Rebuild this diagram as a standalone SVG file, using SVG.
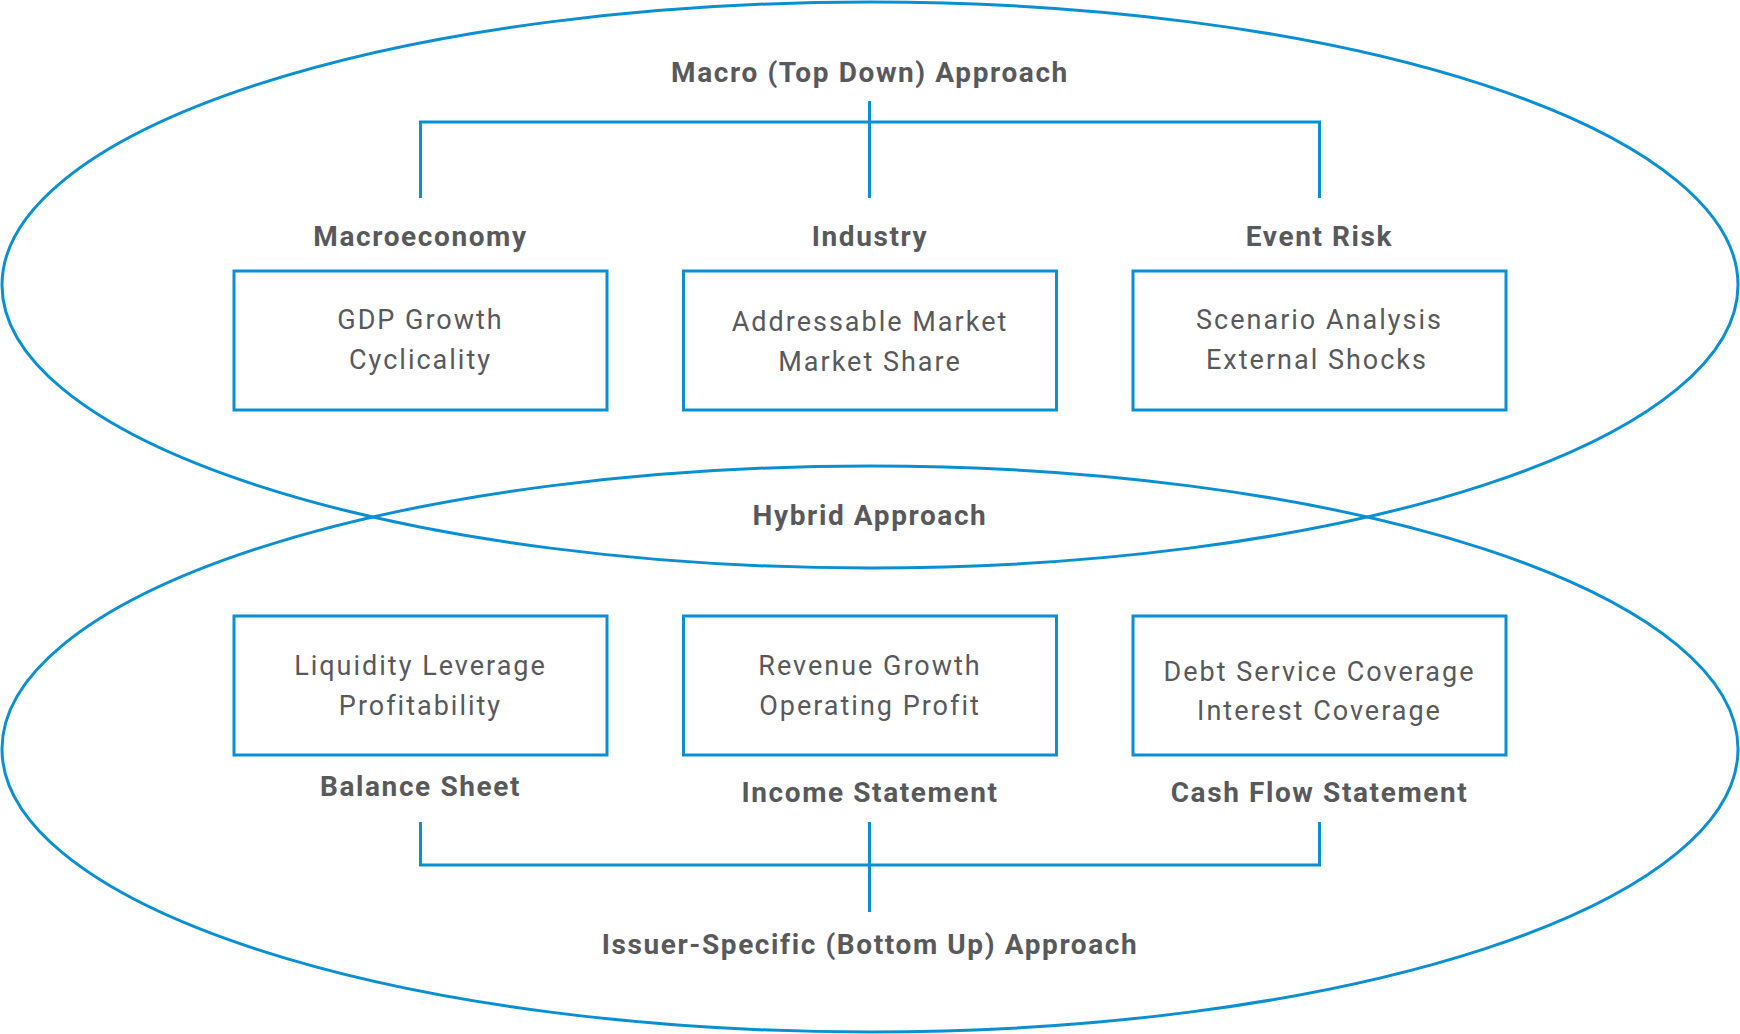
<svg xmlns="http://www.w3.org/2000/svg" width="1740" height="1034" viewBox="0 0 1740 1034">
<style>
.ell{fill:none;stroke:#0a8fd1;stroke-width:3}
.box{fill:#fff;stroke:#0a8fd1;stroke-width:3}
.ln{fill:none;stroke:#0a8fd1;stroke-width:3}
.h{font-family:Roboto,"Liberation Sans",sans-serif;font-weight:bold;font-size:28px;fill:#58595b;text-anchor:middle;letter-spacing:1.6px}
.t{font-family:Roboto,"Liberation Sans",sans-serif;font-size:27px;fill:#58595b;text-anchor:middle;letter-spacing:2px}
</style>
<rect width="1740" height="1034" fill="#fff"/>
<g id="ellipses">
<ellipse class="ell" cx="870" cy="285" rx="868" ry="283"/>
<ellipse class="ell" cx="870" cy="749" rx="868" ry="283"/>
</g>
<g id="connectors">
<path class="ln" d="M869.5 101V198M420.5 198V122H1319.5V198"/>
<path class="ln" d="M420.5 822V865H1319.5V822M869.5 822V912"/>
</g>
<g id="title-macro"><text class="h" x="870" y="82">Macro (Top Down) Approach</text></g>
<g id="title-hybrid"><text class="h" x="870" y="525">Hybrid Approach</text></g>
<g id="title-issuer"><text class="h" x="870" y="954">Issuer-Specific (Bottom Up) Approach</text></g>
<g id="macroeconomy">
<text class="h" x="420.5" y="246">Macroeconomy</text>
<rect class="box" x="234" y="271" width="373" height="139"/>
<text class="t" x="420.5" y="329">GDP Growth</text>
<text class="t" x="420.5" y="369">Cyclicality</text>
</g>
<g id="industry">
<text class="h" x="870" y="246">Industry</text>
<rect class="box" x="683.5" y="271" width="373" height="139"/>
<text class="t" x="870" y="331">Addressable Market</text>
<text class="t" x="870" y="371">Market Share</text>
</g>
<g id="event-risk">
<text class="h" x="1319.5" y="246">Event Risk</text>
<rect class="box" x="1133" y="271" width="373" height="139"/>
<text class="t" x="1319.5" y="329">Scenario Analysis</text>
<text class="t" x="1317" y="369">External Shocks</text>
</g>
<g id="balance-sheet">
<rect class="box" x="234" y="616" width="373" height="139"/>
<text class="t" x="420.5" y="675">Liquidity Leverage</text>
<text class="t" x="420.5" y="715">Profitability</text>
<text class="h" x="420.5" y="796">Balance Sheet</text>
</g>
<g id="income-statement">
<rect class="box" x="683.5" y="616" width="373" height="139"/>
<text class="t" x="870" y="675">Revenue Growth</text>
<text class="t" x="870" y="715">Operating Profit</text>
<text class="h" x="870" y="802">Income Statement</text>
</g>
<g id="cash-flow-statement">
<rect class="box" x="1133" y="616" width="373" height="139"/>
<text class="t" x="1319.5" y="681">Debt Service Coverage</text>
<text class="t" x="1319.5" y="720">Interest Coverage</text>
<text class="h" x="1319.5" y="802">Cash Flow Statement</text>
</g>
</svg>
